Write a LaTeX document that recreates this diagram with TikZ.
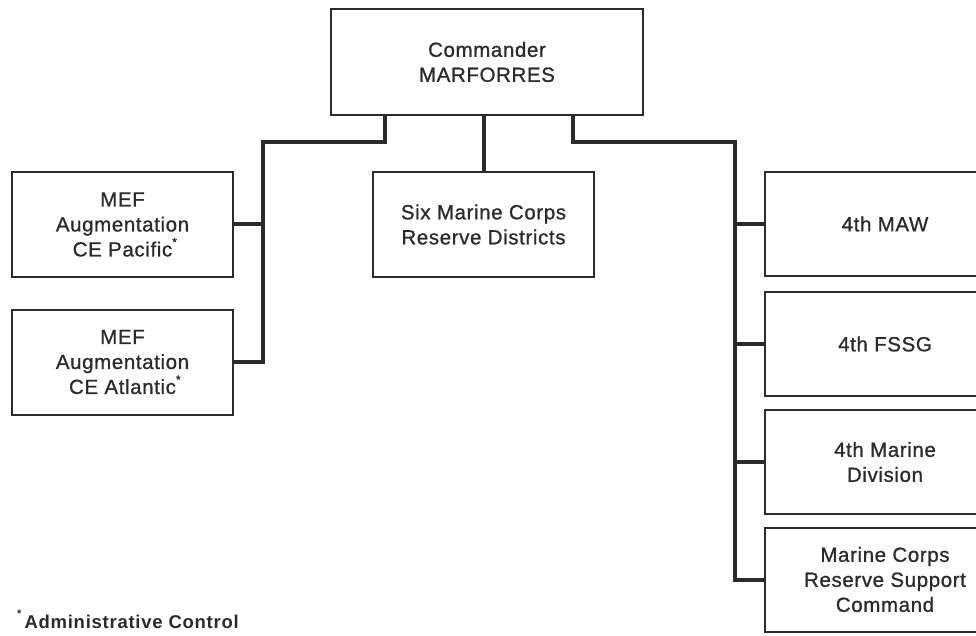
\documentclass[tikz,border=0pt]{standalone}
\usepackage{fontspec}
\setmainfont{Liberation Sans}
\newfontfamily\boxfont[LetterSpace=3,FakeBold=0.9]{Liberation Sans}
\newfontfamily\notefont[LetterSpace=4]{Liberation Sans}
\usepackage{xcolor}
\usetikzlibrary{calc}
\definecolor{ink}{HTML}{2B2B2B}
\tikzset{
  unit/.style={draw=ink, line width=2pt, rectangle, align=center, text=ink,
    font=\boxfont\fontsize{20.5}{25}\selectfont, inner sep=0pt,
    minimum width=221pt, minimum height=105pt},
  cmdbox/.style={unit, minimum width=312pt, minimum height=106pt},
  sidebox/.style={unit, minimum width=240pt, minimum height=104pt},
  conn/.style={draw=ink, line width=4pt, line cap=rect},
  note/.style={text=ink, font=\notefont\bfseries\fontsize{18.5}{20}\selectfont, anchor=base west}
}
\newcommand{\adm}{\rlap{\raisebox{0.5em}{\fontsize{12}{12}\selectfont *}}}

\begin{document}
\begin{tikzpicture}[x=1pt, y=-1pt]
  \useasboundingbox (0,0) rectangle (976,636);

  \node[cmdbox] (cmd) at (487,62) {Commander\\MARFORRES};
  \node[unit] (dist) at (483.5,224.5) {Six Marine Corps\\Reserve Districts};
  \node[unit] (pac) at (122.5,224.5) {MEF\\Augmentation\\CE Pacific\adm};
  \node[unit] (atl) at (122.5,362) {MEF\\Augmentation\\CE Atlantic\adm};

  \node[sidebox] (maw) at (885,224) {4th MAW};
  \node[sidebox] (fssg) at (885,344) {4th FSSG};
  \node[sidebox] (div) at (885,462) {4th Marine\\Division};
  \node[sidebox] (msc) at (885,579.5) {Marine Corps\\Reserve Support\\Command};

  \coordinate (lbus) at (263,142);
  \coordinate (rbus) at (735,142);

  % left branch
  \draw[conn] ([xshift=-102pt]cmd.south) |- (lbus) -- (lbus |- atl.east) -- (atl.east);
  \draw[conn] (lbus |- pac.east) -- (pac.east);
  % centre
  \draw[conn] (cmd.south -| dist.north) -- (dist.north);
  % right branch
  \draw[conn] ([xshift=86pt]cmd.south) |- (rbus) -- (rbus |- msc.west) -- (msc.west);
  \foreach \u in {maw,fssg,div}
    \draw[conn] (rbus |- \u.west) -- (\u.west);

  \node[note] (fn) at (21,628) {\llap{\raisebox{0.55em}{\fontsize{11}{11}\selectfont *}\,}Administrative Control};
\end{tikzpicture}
\end{document}
